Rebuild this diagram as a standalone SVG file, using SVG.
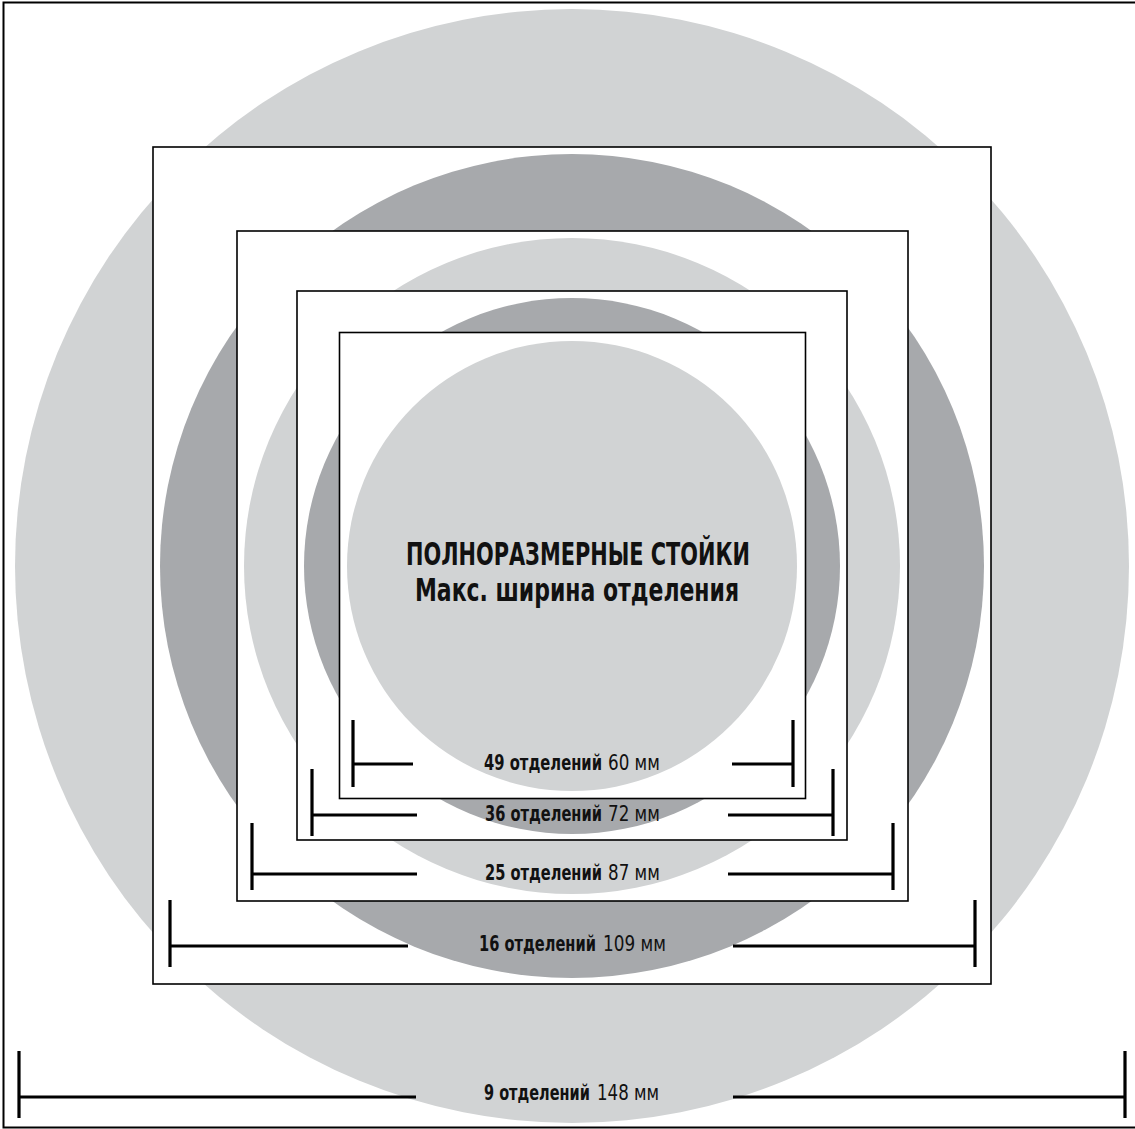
<svg xmlns="http://www.w3.org/2000/svg" width="1135" height="1129" viewBox="0 0 1135 1129">
<style>
.light{fill:#d1d3d4}
.dark{fill:#a7a9ac}
.frame{fill:#fff;stroke:#000;stroke-width:1.6}
.dim{stroke:#000;stroke-width:3.2;fill:none}
.lbl{font-family:"Liberation Sans Narrow","DejaVu Sans Condensed","Liberation Sans",sans-serif;font-size:22px;fill:#111}
.b{font-weight:bold}
.title{font-family:"Liberation Sans Narrow","DejaVu Sans Condensed","Liberation Sans",sans-serif;font-size:32px;font-weight:bold;fill:#111;text-anchor:middle}
</style>
<rect x="3.5" y="2.5" width="1140" height="1125" fill="#fff" stroke="#000" stroke-width="2"/>
<g id="layer-9">
<circle class="light" cx="572" cy="566" r="557"/>
<rect class="frame" x="153" y="147" width="838" height="837"/>
</g>
<g id="layer-16">
<circle class="dark" cx="572" cy="566" r="412"/>
<rect class="frame" x="237" y="231" width="671" height="670"/>
</g>
<g id="layer-25">
<circle class="light" cx="572" cy="566" r="328"/>
<rect class="frame" x="297" y="291" width="550" height="549"/>
</g>
<g id="layer-36">
<circle class="dark" cx="572" cy="566" r="268"/>
<rect class="frame" x="339.5" y="332.5" width="466" height="466"/>
</g>
<g id="layer-49">
<circle class="light" cx="572" cy="566" r="225"/>
</g>
<g id="title">
<text class="title" x="578" y="565" textLength="344" lengthAdjust="spacingAndGlyphs">ПОЛНОРАЗМЕРНЫЕ СТОЙКИ</text>
<text class="title" x="577" y="601" textLength="324" lengthAdjust="spacingAndGlyphs">Макс. ширина отделения</text>
</g>
<g id="connectors">
<path class="dim" d="M353 720V787M353 764H413M732 764H793M793 720V787"/>
<path class="dim" d="M312 769V836M312 815H417M728 815H833M833 769V836"/>
<path class="dim" d="M252 823V890M252 874H417M728 874H893M893 823V890"/>
<path class="dim" d="M170 900V967M170 946H408M733 946H975M975 900V967"/>
<path class="dim" d="M19 1051V1118M19 1097H416M733 1097H1125M1125 1051V1118"/>
</g>
<g id="labels">
<text class="lbl b" transform="translate(484 770) scale(0.72 1)" textLength="164" lengthAdjust="spacingAndGlyphs">49 отделений</text>
<text class="lbl" transform="translate(608 770) scale(0.85 1)" textLength="61" lengthAdjust="spacingAndGlyphs">60 мм</text>
<text class="lbl b" transform="translate(485 821) scale(0.72 1)" textLength="162.5" lengthAdjust="spacingAndGlyphs">36 отделений</text>
<text class="lbl" transform="translate(608 821) scale(0.85 1)" textLength="61" lengthAdjust="spacingAndGlyphs">72 мм</text>
<text class="lbl b" transform="translate(485 880) scale(0.72 1)" textLength="162.5" lengthAdjust="spacingAndGlyphs">25 отделений</text>
<text class="lbl" transform="translate(608 880) scale(0.85 1)" textLength="61" lengthAdjust="spacingAndGlyphs">87 мм</text>
<text class="lbl b" transform="translate(479 951) scale(0.72 1)" textLength="162.5" lengthAdjust="spacingAndGlyphs">16 отделений</text>
<text class="lbl" transform="translate(603 951) scale(0.85 1)" textLength="74" lengthAdjust="spacingAndGlyphs">109 мм</text>
<text class="lbl b" transform="translate(484 1100) scale(0.72 1)" textLength="147" lengthAdjust="spacingAndGlyphs">9 отделений</text>
<text class="lbl" transform="translate(597 1100) scale(0.85 1)" textLength="73" lengthAdjust="spacingAndGlyphs">148 мм</text>
</g>
</svg>
